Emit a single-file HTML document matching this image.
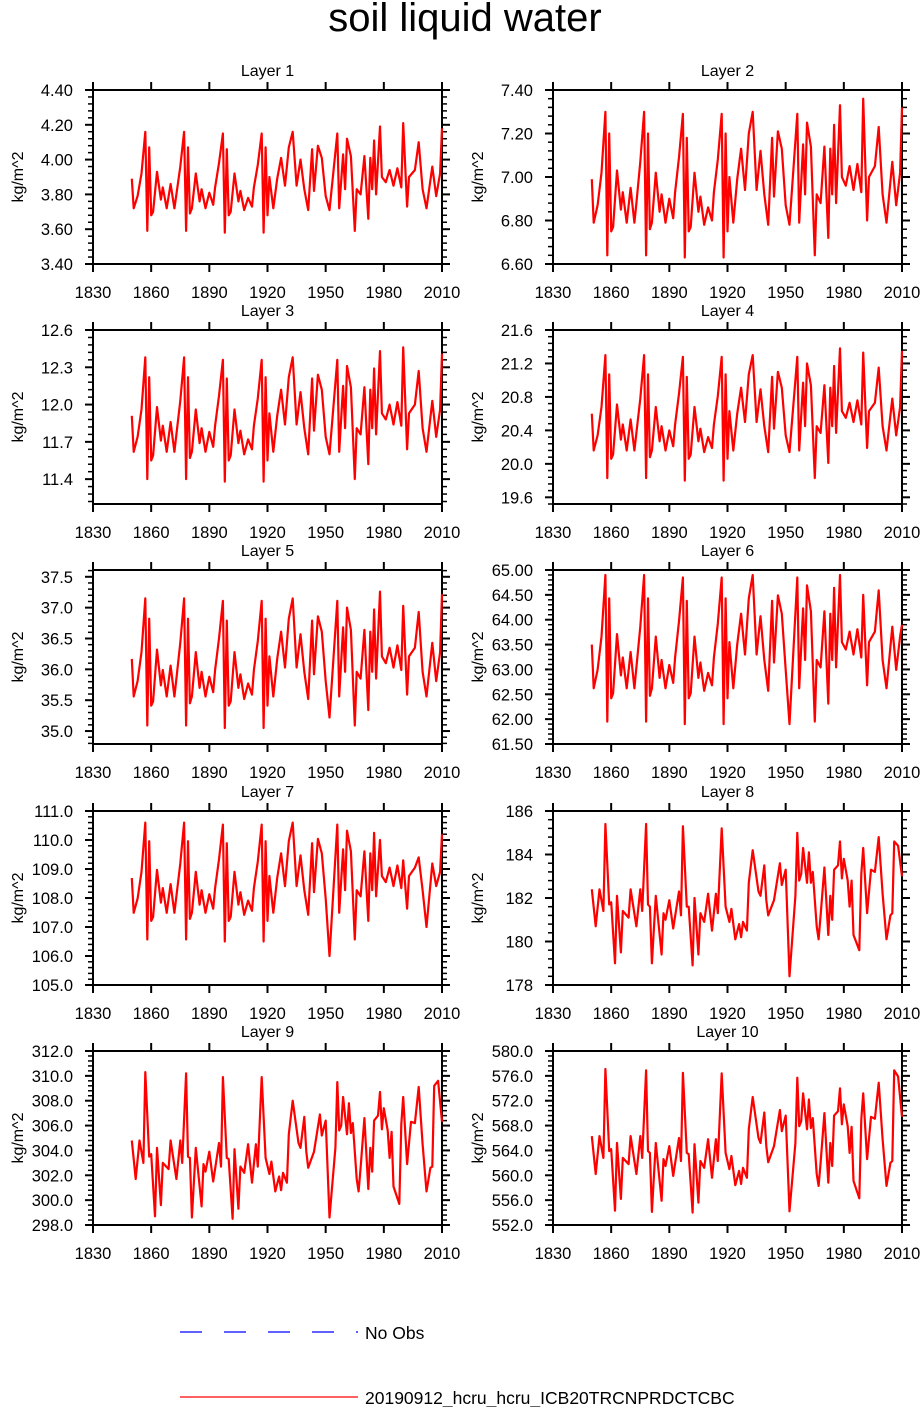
<!DOCTYPE html>
<html><head><meta charset="utf-8"><style>
html,body{margin:0;padding:0;background:#fff;}
svg{display:block;font-family:"Liberation Sans",Arial,sans-serif;}
</style></head><body>
<svg id="chart" width="922" height="1407" viewBox="0 0 922 1407" xmlns="http://www.w3.org/2000/svg">
<text x="465" y="31" font-size="40" text-anchor="middle">soil liquid water</text>
<g>
<line x1="180" y1="1332" x2="358" y2="1332" stroke="#0000ff" stroke-width="1.2" stroke-dasharray="22,22"/>
<text x="365" y="1339" font-size="17.5">No Obs</text>
<line x1="180" y1="1397" x2="358" y2="1397" stroke="#ff0000" stroke-width="1.2"/>
<text x="365" y="1404" font-size="17.5">20190912_hcru_hcru_ICB20TRCNPRDCTCBC</text>
</g>
</svg>
<script>
const xTicks = [1830,1860,1890,1920,1950,1980,2010];
const yearsA = [1850,1851,1853,1855,1857,1858,1859,1860,1861,1863,
1865,1866,1868,1870,1872,1873,1875,1877,1878,1879,
1880,1881,1883,1885,1886,1888,1890,1892,1893,1895,
1897,1898,1899,1900,1901,1903,1905,1906,1908,1910,
1912,1913,1915,1917,1918,1919,1920,1921,1923,1925,
1927,1929,1931,1933,1935,1937,1939,1941,1943,1944,
1946,1948,1950,1952,1956,1957,1959,1960,1961,1963,
1965,1966,1968,1970,1972,1973,1974,1975,1976,1978,
1979,1981,1983,1985,1987,1989,1990,1992,1993,1996,
1998,2000,2002,2005,2007,2009,2010];
const yearsB = [1850,1852,1854,1856,1857,1859,1860,1862,1863,1865,
1866,1869,1870,1873,1875,1876,1878,1879,1880,1881,
1883,1886,1887,1888,1890,1892,1895,1896,1897,1899,
1900,1902,1903,1905,1906,1908,1910,1912,1914,1915,
1917,1919,1921,1922,1924,1926,1927,1928,1930,1931,
1933,1936,1937,1939,1940,1941,1944,1947,1948,1950,
1952,1955,1956,1957,1958,1959,1961,1962,1963,1964,
1966,1967,1968,1970,1972,1973,1974,1975,1977,1978,
1979,1980,1982,1983,1984,1985,1988,1989,1990,1992,
1994,1996,1998,2000,2002,2004,2005,2006,2008,2010];
const layer1 = [3.89,3.72,3.79,3.92,4.16,3.59,4.07,3.68,3.70,3.93,
3.77,3.84,3.72,3.86,3.72,3.80,3.96,4.16,3.59,4.07,
3.69,3.72,3.92,3.76,3.83,3.72,3.81,3.74,3.84,3.98,
4.15,3.58,4.06,3.68,3.70,3.92,3.76,3.82,3.71,3.78,
3.73,3.84,3.97,4.15,3.58,4.07,3.68,3.90,3.72,3.89,
4.01,3.85,4.07,4.16,3.85,4.00,3.83,3.71,4.06,3.82,
4.08,4.01,3.79,3.71,4.15,3.72,4.03,3.83,4.12,4.02,
3.59,3.83,3.80,4.02,3.66,4.01,3.83,4.11,3.80,4.19,
3.90,3.87,3.94,3.85,3.95,3.84,4.21,3.73,3.90,3.94,
4.10,3.83,3.72,3.96,3.79,3.92,4.18];
const layer2 = [6.99,6.79,6.87,7.02,7.30,6.64,7.20,6.75,6.77,7.03,
6.85,6.93,6.79,6.95,6.79,6.88,7.07,7.30,6.64,7.20,
6.76,6.79,7.02,6.84,6.92,6.79,6.90,6.81,6.93,7.09,
7.29,6.63,7.18,6.75,6.77,7.02,6.84,6.91,6.78,6.86,
6.80,6.93,7.08,7.29,6.63,7.20,6.75,7.00,6.79,6.99,
7.13,6.94,7.20,7.30,6.94,7.12,6.92,6.78,7.18,6.91,
7.21,7.13,6.87,6.78,7.29,6.79,7.15,6.92,7.25,7.14,
6.64,6.92,6.88,7.14,6.72,7.13,6.92,7.24,6.88,7.33,
7.00,6.96,7.05,6.94,7.06,6.93,7.36,6.80,7.00,7.05,
7.23,6.92,6.79,7.07,6.87,7.02,7.32];
const layer3 = [11.91,11.62,11.74,11.96,12.38,11.40,12.22,11.55,11.59,11.98,
11.71,11.83,11.62,11.86,11.62,11.76,12.03,12.38,11.40,12.22,
11.57,11.62,11.96,11.69,11.81,11.62,11.78,11.66,11.83,12.07,
12.36,11.38,12.21,11.55,11.59,11.96,11.69,11.79,11.60,11.72,
11.64,11.83,12.05,12.36,11.38,12.22,11.55,11.93,11.62,11.91,
12.12,11.84,12.22,12.38,11.84,12.10,11.81,11.60,12.21,11.79,
12.24,12.12,11.74,11.60,12.36,11.62,12.15,11.81,12.31,12.14,
11.40,11.81,11.76,12.14,11.52,12.12,11.81,12.29,11.76,12.43,
11.93,11.88,12.00,11.84,12.02,11.83,12.46,11.64,11.93,12.00,
12.27,11.81,11.62,12.03,11.74,11.96,12.41];
const layer4 = [20.60,20.16,20.34,20.68,21.30,19.83,21.07,20.06,20.11,20.71,
20.29,20.47,20.16,20.53,20.16,20.37,20.78,21.30,19.83,21.07,
20.08,20.16,20.68,20.27,20.45,20.16,20.40,20.21,20.47,20.84,
21.28,19.80,21.04,20.06,20.11,20.68,20.27,20.42,20.14,20.32,
20.19,20.47,20.81,21.28,19.80,21.07,20.06,20.63,20.16,20.60,
20.91,20.50,21.07,21.30,20.50,20.89,20.45,20.14,21.04,20.42,
21.10,20.91,20.34,20.14,21.28,20.16,20.97,20.45,21.20,20.94,
19.83,20.45,20.37,20.94,20.01,20.91,20.45,21.17,20.37,21.38,
20.63,20.55,20.73,20.50,20.76,20.47,21.33,20.19,20.63,20.73,
21.15,20.45,20.16,20.78,20.34,20.68,21.35];
const layer5 = [36.17,35.56,35.81,36.28,37.15,35.09,36.82,35.41,35.48,36.32,
35.74,35.99,35.56,36.06,35.56,35.85,36.43,37.15,35.09,36.82,
35.45,35.56,36.28,35.70,35.96,35.56,35.88,35.63,35.99,36.50,
37.11,35.05,36.79,35.41,35.48,36.28,35.70,35.92,35.52,35.77,
35.59,35.99,36.46,37.11,35.05,36.82,35.41,36.21,35.56,36.17,
36.61,36.03,36.82,37.15,36.03,36.57,35.96,35.52,36.79,35.92,
36.86,36.61,35.81,35.22,37.11,35.56,36.68,35.96,37.00,36.64,
35.09,35.96,35.85,36.64,35.34,36.61,35.96,36.97,35.85,37.26,
36.21,36.10,36.35,36.03,36.39,35.99,37.03,35.59,36.21,36.35,
36.93,35.96,35.56,36.43,35.81,36.28,37.22];
const layer6 = [63.50,62.62,62.99,63.66,64.90,61.95,64.43,62.42,62.52,63.71,
62.88,63.24,62.62,63.35,62.62,63.04,63.86,64.90,61.95,64.43,
62.47,62.62,63.66,62.83,63.19,62.62,63.09,62.73,63.24,63.97,
64.85,61.90,64.38,62.42,62.52,63.66,62.83,63.14,62.57,62.93,
62.68,63.24,63.92,64.85,61.90,64.43,62.42,63.55,62.62,63.50,
64.12,63.30,64.43,64.90,63.30,64.07,63.19,62.57,64.38,63.14,
64.49,64.12,62.99,61.90,64.85,62.62,64.23,63.19,64.69,64.17,
61.95,63.19,63.04,64.17,62.31,64.12,63.19,64.64,63.04,64.90,
63.55,63.40,63.76,63.30,63.81,63.24,64.50,62.68,63.55,63.76,
64.59,63.19,62.62,63.86,62.99,63.66,63.90];
const layer7 = [108.69,107.49,107.98,108.90,110.60,106.57,109.96,107.21,107.35,108.97,
107.84,108.34,107.49,108.48,107.49,108.06,109.19,110.60,106.57,109.96,
107.28,107.49,108.90,107.77,108.27,107.49,108.13,107.63,108.34,109.33,
110.53,106.50,109.89,107.21,107.35,108.90,107.77,108.20,107.42,107.91,
107.56,108.34,109.26,110.53,106.50,109.96,107.21,108.76,107.49,108.69,
109.54,108.41,109.96,110.60,108.41,109.47,108.27,107.42,109.89,108.20,
110.04,109.54,107.98,106.00,110.53,107.49,109.68,108.27,110.32,109.61,
106.57,108.27,108.06,109.61,107.21,109.54,108.27,110.25,108.06,110.00,
108.76,108.55,109.05,108.41,109.12,108.34,109.30,107.63,108.76,109.05,
109.40,108.27,107.00,109.19,108.41,108.90,110.20];
const layer8 = [182.4,180.7,182.4,181.4,185.4,181.7,181.8,179.0,182.1,179.5,
181.4,181.1,182.4,180.7,182.4,181.4,185.4,181.7,181.6,179.0,
182.1,179.4,181.3,181.0,181.9,180.6,182.3,181.2,185.3,181.6,
181.6,178.9,182.0,179.4,181.3,180.9,182.2,180.5,182.2,181.3,
185.2,181.6,180.9,181.5,180.1,180.8,180.2,180.9,180.5,182.7,
184.2,182.3,182.1,183.5,181.9,181.2,181.9,183.6,182.6,183.3,
178.4,182.1,185.0,182.8,183.1,184.3,182.7,184.1,182.7,183.2,
180.7,180.1,181.2,183.4,180.3,182.1,181.0,183.3,183.5,184.6,
182.9,183.8,182.8,181.6,182.8,180.3,179.6,183.1,184.3,181.3,
183.3,183.2,184.8,182.2,180.1,181.2,181.3,184.6,184.4,183.0];
const layer9 = [304.8,301.7,304.8,303.0,310.3,303.5,303.7,298.7,304.2,299.6,
303.0,302.5,304.8,301.7,304.8,303.0,310.2,303.5,303.4,298.6,
304.2,299.5,302.9,302.3,303.9,301.5,304.6,302.7,309.9,303.4,
303.3,298.5,304.1,299.3,302.7,302.2,304.5,301.4,304.5,302.7,
309.9,303.4,302.1,303.1,300.7,301.9,300.8,302.2,301.4,305.3,
308.0,304.6,304.2,306.7,303.9,302.6,303.9,306.9,305.2,306.4,
298.6,304.2,309.5,305.6,306.0,308.3,305.3,307.8,305.4,306.2,
301.7,300.7,302.6,306.6,300.9,304.2,302.3,306.4,306.8,308.7,
305.7,307.4,305.6,303.4,305.5,301.1,299.7,306.1,308.3,302.9,
306.3,306.2,309.1,304.5,300.7,302.6,302.7,309.2,309.6,306.3];
const layer10 = [566.3,560.2,566.3,562.8,577.1,563.9,564.2,554.3,565.2,556.2,
562.8,561.8,566.3,560.2,566.3,562.8,576.9,563.9,563.6,554.1,
565.2,555.9,562.6,561.5,564.7,559.9,566.0,562.3,576.5,563.6,
563.4,554.0,565.0,555.6,562.3,561.2,565.8,559.6,565.8,562.3,
576.4,563.6,561.0,563.1,558.4,560.7,558.6,561.2,559.6,567.4,
572.6,566.0,565.2,570.1,564.7,562.1,564.7,570.5,567.1,569.6,
554.2,565.2,575.7,567.9,568.7,573.2,567.4,572.2,567.6,569.2,
560.2,558.3,562.0,570.0,558.8,565.2,561.5,569.6,570.3,574.0,
568.2,571.4,567.9,563.6,567.8,559.1,556.3,569.0,573.2,562.6,
569.4,569.1,574.9,565.8,558.3,562.0,562.3,576.9,575.9,569.4];
const yTicks1 = [3.4,3.6,3.8,4.0,4.2,4.4];
const yTicks2 = [6.6,6.8,7.0,7.2,7.4];
const yTicks3 = [11.4,11.7,12.0,12.3,12.6];
const yTicks4 = [19.6,20.0,20.4,20.8,21.2,21.6];
const yTicks5 = [35.0,35.5,36.0,36.5,37.0,37.5];
const yTicks6 = [61.5,62.0,62.5,63.0,63.5,64.0,64.5,65.0];
const yTicks7 = [105,106,107,108,109,110,111];
const yTicks8 = [178,180,182,184,186];
const yTicks9 = [298,300,302,304,306,308,310,312];
const yTicks10 = [552,556,560,564,568,572,576,580];

const panels = [
 {n:1,col:0,row:0,yr:yearsA,v:layer1,t:yTicks1,min:3.4,max:4.4,dec:2},
 {n:2,col:1,row:0,yr:yearsA,v:layer2,t:yTicks2,min:6.6,max:7.4,dec:2},
 {n:3,col:0,row:1,yr:yearsA,v:layer3,t:yTicks3,min:11.2,max:12.6,dec:1},
 {n:4,col:1,row:1,yr:yearsA,v:layer4,t:yTicks4,min:19.52,max:21.6,dec:1},
 {n:5,col:0,row:2,yr:yearsA,v:layer5,t:yTicks5,min:34.79,max:37.61,dec:1},
 {n:6,col:1,row:2,yr:yearsA,v:layer6,t:yTicks6,min:61.5,max:65.0,dec:2},
 {n:7,col:0,row:3,yr:yearsA,v:layer7,t:yTicks7,min:105,max:111,dec:1},
 {n:8,col:1,row:3,yr:yearsB,v:layer8,t:yTicks8,min:178,max:186,dec:0},
 {n:9,col:0,row:4,yr:yearsB,v:layer9,t:yTicks9,min:298,max:312,dec:1},
 {n:10,col:1,row:4,yr:yearsB,v:layer10,t:yTicks10,min:552,max:580,dec:1}
];
const NS='http://www.w3.org/2000/svg';
const svg=document.getElementById('chart');
function mk(tag,attrs,parent){const e=document.createElementNS(NS,tag);for(const k in attrs)e.setAttribute(k,attrs[k]);parent.appendChild(e);return e;}
const colX=[93,553], W=349, rowY=[90,330,570,811,1051], H=174;
panels.forEach(p=>{
 const x0=colX[p.col], y0=rowY[p.row];
 const g=mk('g',{},svg);
 
 
 const xs=y=>x0+(y-1830)/180*W;
 const ys=v=>y0+H-(v-p.min)/(p.max-p.min)*H;
 const frame=mk('rect',{x:x0,y:y0,width:W,height:H,fill:'none',stroke:'#000','stroke-width':2},g);
 
 
 const tt=mk('text',{x:x0+W/2,y:y0-14,'font-size':16,'text-anchor':'middle'},g);
 tt.textContent='Layer '+p.n;
 
 
 const yl=mk('text',{x:0,y:0,'font-size':16,'text-anchor':'middle',transform:'translate('+(x0-70)+','+(y0+H/2)+') rotate(-90)'},g);
 yl.textContent='kg/m^2';
 
 
 xTicks.forEach(t=>{
  const X=xs(t);
  mk('line',{x1:X,y1:y0+H,x2:X,y2:y0+H+8,stroke:'#000','stroke-width':2},g);
  mk('line',{x1:X,y1:y0,x2:X,y2:y0-8,stroke:'#000','stroke-width':2},g);
  const lb=mk('text',{x:X,y:y0+H+34,'font-size':16.5,'text-anchor':'middle'},g);
  lb.textContent=t;
  
  
 });
 const step=p.t[1]-p.t[0];
 for(let i=0;i<p.t.length;i++){
  const v=p.t[i], Y=ys(v);
  mk('line',{x1:x0-8,y1:Y,x2:x0,y2:Y,stroke:'#000','stroke-width':2},g);
  mk('line',{x1:x0+W,y1:Y,x2:x0+W+8,y2:Y,stroke:'#000','stroke-width':2},g);
  const lb=mk('text',{x:x0-20,y:Y+6,'font-size':16.5,'text-anchor':'end'},g);
  lb.textContent=v.toFixed(p.dec);
  
  
  for(let k=-4;k<=4;k++){ if(k===0)continue;
   const mv=v+k*step/5; if(mv<p.min-1e-9||mv>p.max+1e-9) continue;
   if(k<0 && i>0) continue;
   const MY=ys(mv);
   mk('line',{x1:x0-5,y1:MY,x2:x0,y2:MY,stroke:'#000','stroke-width':1.5},g);
   mk('line',{x1:x0+W,y1:MY,x2:x0+W+5,y2:MY,stroke:'#000','stroke-width':1.5},g);
  }
 }
 const pts=p.v.map((v,i)=>xs(p.yr[i]).toFixed(1)+','+ys(v).toFixed(1)).join(' ');
 const ln=mk('polyline',{points:pts,fill:'none',stroke:'#ff0000','stroke-width':2.2,'stroke-linejoin':'round'},g);
 
 
});
</script>
</body></html>
